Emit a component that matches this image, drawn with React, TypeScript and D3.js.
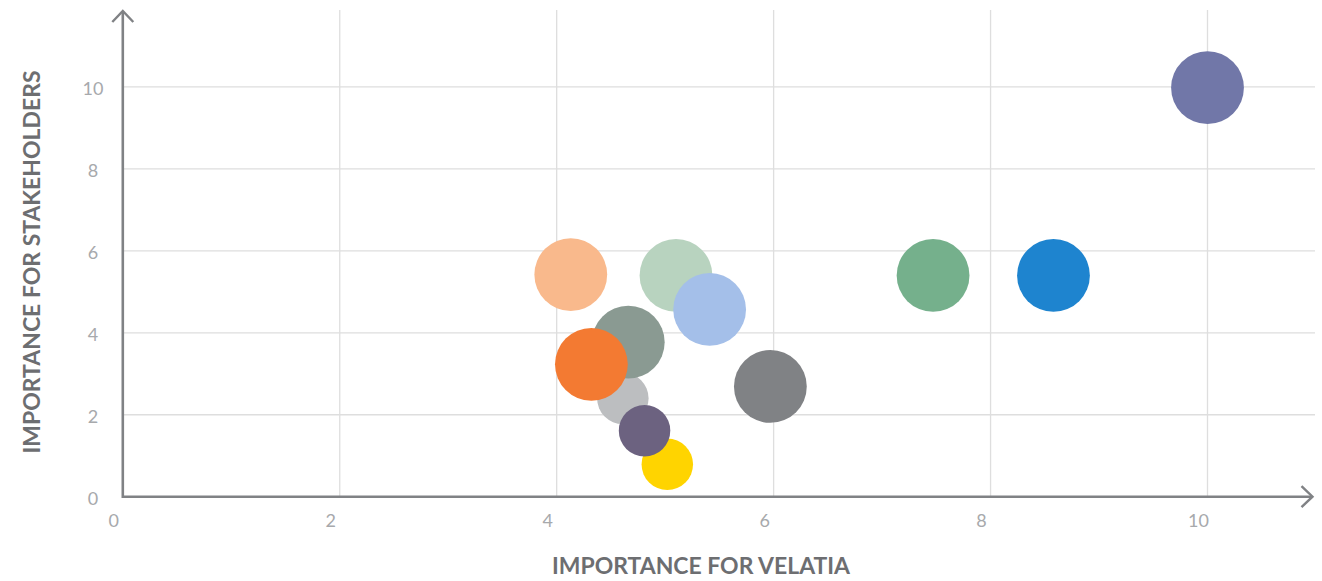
import React from "react";
import * as d3 from "d3";

// Data (draw order: first drawn at bottom)
const names = [
  "Top", "Peach", "LightGreen", "LightBlue", "Green", "Blue", "DarkGray",
  "Yellow", "LightGray", "Purple", "GrayGreen", "Orange",
];
const xValues = [10.0, 4.13, 5.1, 5.41, 7.47, 8.58, 5.97, 5.02, 4.61, 4.81, 4.66, 4.32];
const yValues = [9.98, 5.42, 5.4, 4.57, 5.4, 5.4, 2.69, 0.79, 2.4, 1.61, 3.77, 3.23];
const sizes = [2, 2, 2, 2, 2, 2, 2, 1, 1, 1, 2, 2];
const colors = [
  "#7177a8", "#f9b98c", "#b8d3bf", "#a4bfe9", "#75b08c", "#1e84cf", "#808285",
  "#ffd400", "#bcbec0", "#6c6280", "#8a9a92", "#f37a32",
];
const xTicks = [0, 2, 4, 6, 8, 10];
const yTicks = [0, 2, 4, 6, 8, 10];
const xTitle = "IMPORTANCE FOR VELATIA";
const yTitle = "IMPORTANCE FOR STAKEHOLDERS";

export default function App() {
  const W = 1322, H = 581;
  const x = d3.scaleLinear().domain([0, 10]).range([122.8, 1207.5]);
  const y = d3.scaleLinear().domain([0, 10]).range([496.7, 86.9]);
  const r = d3.scaleSqrt().domain([0, 2]).range([0, 36.4]);
  const x0 = x(0), y0 = y(0);
  const xEnd = 1315, yTop = 10;
  const axisColor = "#808285";
  const gridColor = "#dedede";
  const tickColor = "#a7a9ac";
  const titleColor = "#6d6e71";
  const font = "Lato, 'Open Sans', sans-serif";

  return (
    <div style={{ position: "fixed", left: 0, top: 0, width: W, height: H, background: "#fff" }}>
      <svg width={W} height={H} style={{ display: "block" }}>
        {/* gridlines */}
        {yTicks.filter((t) => t > 0).map((t) => (
          <line key={"gy" + t} x1={x0} x2={xEnd} y1={y(t)} y2={y(t)} stroke={gridColor} strokeWidth={1.3} />
        ))}
        {xTicks.filter((t) => t > 0).map((t) => (
          <line key={"gx" + t} x1={x(t)} x2={x(t)} y1={yTop} y2={y0} stroke={gridColor} strokeWidth={1.3} />
        ))}
        {/* bubbles */}
        {names.map((n, i) => (
          <circle key={n} cx={x(xValues[i])} cy={y(yValues[i])} r={r(sizes[i])} fill={colors[i]} />
        ))}
        {/* axes */}
        <line x1={x0} x2={1312} y1={y0} y2={y0} stroke={axisColor} strokeWidth={2.6} />
        <line x1={x0} x2={x0} y1={y0 + 1.3} y2={yTop + 1} stroke={axisColor} strokeWidth={2.6} />
        <path d={`M${1301.5},${y0 - 10.5} L${1312.5},${y0} L${1301.5},${y0 + 10.5}`} fill="none" stroke={axisColor} strokeWidth={2.4} />
        <path d={`M${x0 - 10.5},${yTop + 12} L${x0},${yTop + 1} L${x0 + 10.5},${yTop + 12}`} fill="none" stroke={axisColor} strokeWidth={2.4} />
        {/* tick labels */}
        {xTicks.map((t) => (
          <text key={"tx" + t} x={x(t) - 9} y={527} textAnchor="middle" fontFamily={font} fontSize={18} fill={tickColor}>
            {t}
          </text>
        ))}
        {yTicks.map((t) => (
          <text key={"ty" + t} x={93} y={y(t) + 8} textAnchor="middle" fontFamily={font} fontSize={18} fill={tickColor}>
            {t}
          </text>
        ))}
        {/* titles */}
        <text x={701} y={573.5} textAnchor="middle" fontFamily={font} fontWeight={700} fontSize={23} fill={titleColor}
          textLength={298} lengthAdjust="spacingAndGlyphs">
          {xTitle}
        </text>
        <text transform={`translate(39.5,262) rotate(-90)`} textAnchor="middle" fontFamily={font} fontWeight={700} fontSize={23}
          fill={titleColor} textLength={383} lengthAdjust="spacingAndGlyphs">
          {yTitle}
        </text>
      </svg>
    </div>
  );
}
